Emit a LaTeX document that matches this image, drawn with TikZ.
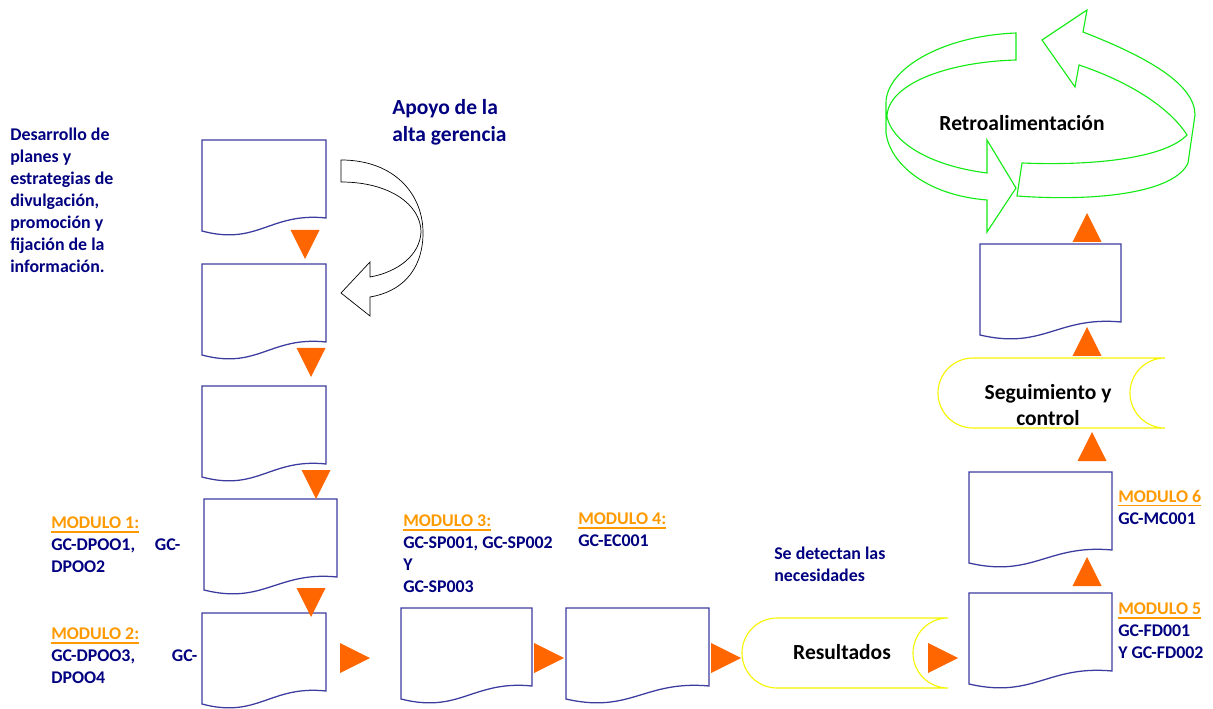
\documentclass[tikz,border=0pt]{standalone}
\usepackage{fontspec}
\setmainfont{Carlito}
\usepackage{xcolor}
\usepackage{tikz}
\usetikzlibrary{positioning}

\definecolor{docblue}{RGB}{60,60,160}
\definecolor{navytext}{RGB}{0,0,128}
\definecolor{modorange}{RGB}{255,153,0}
\definecolor{triorange}{RGB}{255,102,0}
\definecolor{ringgreen}{RGB}{20,235,20}
\definecolor{termyellow}{RGB}{245,245,0}

\newcommand{\modtitle}[1]{\textcolor{modorange}{\setbox0\hbox{#1}\rlap{\rule[-2.6pt]{\wd0}{0.9pt}}\box0}}

\tikzset{pics/docpage/.style={code={
  \draw[docline] (0,0) -- (#1,0) -- (#1,78) .. controls ({0.55*#1},72) and ({0.45*#1},106) .. (0,91) -- cycle;
}}}

\begin{document}
\begin{tikzpicture}[x=0.025cm, y=-0.025cm]
\tikzstyle{docline} = [draw=docblue, line width=0.9pt, fill=white]
\tikzstyle{flowtri} = [fill=triorange]
\tikzstyle{smalltext} = [text=navytext, font=\fontsize{12.7}{15.6}\selectfont\bfseries, align=left, inner sep=0pt, anchor=north west]
\tikzstyle{bigtext} = [font=\fontsize{15.3}{19}\selectfont\bfseries, inner sep=0pt]
\tikzstyle{termline} = [draw=termyellow, line width=0.8pt]
\tikzstyle{ringline} = [draw=ringgreen, line width=0.8pt]

\useasboundingbox (0,0) rectangle (1213,709);

% documents
\pic (docA) at (202,140) {docpage=124};
\pic (docB) at (202,264) {docpage=124};
\pic (docC) at (202,386) {docpage=124};
\pic (docD) at (204,499) {docpage=133};
\pic (docE) at (202,613) {docpage=124};
\pic (docF) at (401,608) {docpage=131};
\pic (docG) at (566,608) {docpage=143};
\pic (docH) at (969,593) {docpage=143};
\pic (docI) at (969,472) {docpage=143};
\pic (docJ) at (980,244) {docpage=141};

% orange flow marks
\foreach \ax/\ay in {305/259, 311/377, 316/499, 311/617}
  \fill[flowtri] ({\ax-14.5},{\ay-29}) -- ({\ax+14.5},{\ay-29}) -- (\ax,\ay) -- cycle;
\foreach \ax/\ay in {370/658, 564/658, 741/658, 958/658}
  \fill[flowtri] ({\ax-30},{\ay-15}) -- ({\ax-30},{\ay+15}) -- (\ax,\ay) -- cycle;
\foreach \ax/\ay in {1087/557, 1092/432, 1087/327, 1087/213}
  \fill[flowtri] ({\ax-14.5},{\ay+29}) -- ({\ax+14.5},{\ay+29}) -- (\ax,\ay) -- cycle;

% support arrow
\draw[black, line width=0.5pt, fill=white] (341,160) .. controls (395,160) and (424,195) .. (423,235)
  .. controls (422,272) and (400,292) .. (370,297) -- (370,316) -- (341,293) -- (370,262) -- (370,277)
  .. controls (398,272) and (420,255) .. (421,232) .. controls (421,205) and (390,182) .. (341,182) -- cycle;

% terminators
\draw[termline] (948,618) -- (777,618) arc[start angle=270, end angle=90, radius=35] -- (948,688) arc[start angle=90, end angle=270, radius=35] -- cycle;
\draw[termline] (1165,358) -- (973,358) arc[start angle=270, end angle=90, radius=35] -- (1165,428) arc[start angle=90, end angle=270, radius=35] -- cycle;

% feedback ring
\draw[ringline] (1016,33) -- (1016,60) .. controls (945,62) and (887,85) .. (887,117)
  .. controls (892,140) and (925,165) .. (987,173) -- (987,140) -- (1016,188) -- (987,232) -- (987,200)
  .. controls (925,195) and (890,163) .. (886,133) -- (886,103) .. controls (886,70) and (940,36) .. (1016,33) -- cycle;
\draw[ringline] (1022,163) -- (1017,196) .. controls (1100,202) and (1175,192) .. (1188,163) -- (1195,115)
  .. controls (1195,85) and (1150,58) .. (1083,32) -- (1087,10) -- (1042,40) -- (1075,87) -- (1079,65)
  .. controls (1130,82) and (1170,108) .. (1187,135) .. controls (1165,158) and (1095,166) .. (1022,163) -- cycle;

% texts
\node[smalltext] (plan) at (10,128) {Desarrollo de\\planes y\\estrategias de\\divulgación,\\promoción y\\fijación de la\\información.};
\node[bigtext, text=navytext, align=left, anchor=north west] (apoyo) at (392,99) {Apoyo de la\\alta gerencia};
\node[smalltext] (mod1) at (51,517) {\modtitle{MODULO 1:}\\\makebox[3.225cm][l]{GC-DPOO1,\hfill GC-}\\DPOO2};
\node[smalltext] (mod2) at (51,628) {\modtitle{MODULO 2:}\\\makebox[3.65cm][l]{GC-DPOO3,\hfill GC-}\\DPOO4};
\node[smalltext] (mod3) at (403,515) {\modtitle{MODULO 3:}\\GC-SP001, GC-SP002\\Y\\GC-SP003};
\node[smalltext] (mod4) at (578,513) {\modtitle{MODULO 4:}\\GC-EC001};
\node[smalltext] (detect) at (774,547) {Se detectan las\\necesidades};
\node[smalltext] (mod5) at (1118,603) {\modtitle{MODULO 5}\\GC-FD001\\Y GC-FD002};
\node[smalltext] (mod6) at (1118,490) {\modtitle{MODULO 6}\\GC-MC001};
\node[bigtext] (result) at (842,652) {Resultados};
\node[bigtext, align=center] (segui) at (1048,405) {Seguimiento y\\control};
\node[bigtext] (retro) at (1022,123) {Retroalimentación};

\end{tikzpicture}
\end{document}
